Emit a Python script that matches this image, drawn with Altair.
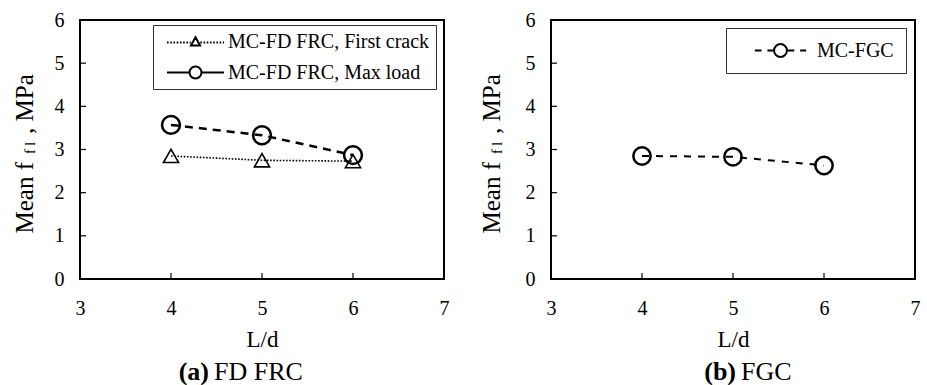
import altair as alt
import pandas as pd

# ---------------- data ----------------
ld = [4, 5, 6]
fd_first_crack = [2.85, 2.75, 2.73]
fd_max_load = [3.57, 3.33, 2.87]
fgc_mc = [2.85, 2.83, 2.63]

series_fd = ["MC-FD FRC, First crack", "MC-FD FRC, Max load"]
series_fgc = ["MC-FGC"]

x_ticks = [3, 4, 5, 6, 7]
y_ticks = [0, 1, 2, 3, 4, 5, 6]
x_title = "L/d"
y_title_parts = ["Mean f", "f l", ", MPa"]
panel_tags = ["(a)", "(b)"]
panel_names = ["FD FRC", "FGC"]

# ---------------- style ----------------
FONT = "Liberation Serif"
W, H = 364, 259
TICK_LEN = 6


def seg_path(x0, x1, on, off, y=0.0):
    """horizontal dashed segments between x0 and x1 (symbol units)"""
    parts = []
    x = x0
    while x < x1 - 1e-9:
        e = min(x + on, x1)
        parts.append(f"M{x:.3f},{y:.3f}H{e:.3f}")
        x = e + off
    return "".join(parts)


def circ_path(r):
    return (f"M{r},0A{r},{r},0,1,1,{-r},0A{r},{r},0,1,1,{r},0")


# legend symbols (symbol size 361 -> 1 unit = 9.5 px)
PATH_TRI = (seg_path(-3, -0.5, 0.17, 0.17, 0.1) + seg_path(0.5, 3, 0.17, 0.17, 0.1)
            + "M0,-0.45L0.48,0.42L-0.48,0.42Z")
PATH_CIRC = "M-3,0H-0.63M0.63,0H3" + circ_path(0.63)
PATH_CIRC2 = (seg_path(-2.7, -0.68, 0.7, 0.62) + seg_path(0.75, 2.7, 0.7, 0.62)
              + circ_path(0.68))

df_fd = pd.DataFrame({
    "ld": ld + ld,
    "val": fd_first_crack + fd_max_load,
    "series": [series_fd[0]] * 3 + [series_fd[1]] * 3,
})
df_fgc = pd.DataFrame({"ld": ld, "val": fgc_mc, "series": [series_fgc[0]] * 3})
df_xt = pd.DataFrame({"ld": x_ticks})
df_yt = pd.DataFrame({"val": y_ticks})


def xenc():
    return alt.X(
        "ld:Q",
        scale=alt.Scale(domain=[3, 7], nice=False, zero=False),
        axis=alt.Axis(values=x_ticks, title=x_title, grid=False, ticks=False,
                      tickSize=0, domain=False, labelFlush=False,
                      labelPadding=19, titlePadding=10, labelFont=FONT,
                      labelFontSize=20, labelColor="black", titleFont=FONT,
                      titleFontSize=23, titleFontWeight="normal",
                      titleColor="black"),
    )


def yenc():
    return alt.Y(
        "val:Q",
        scale=alt.Scale(domain=[0, 6], nice=False),
        axis=alt.Axis(values=y_ticks, title=None, grid=False, ticks=False,
                      tickSize=0, domain=False, labelPadding=16,
                      labelFont=FONT, labelFontSize=20, labelColor="black"),
    )


def inner_ticks():
    xt = alt.Chart(df_xt).mark_rule(color="black", strokeWidth=1.2).encode(
        x=xenc(), y=alt.value(H), y2=alt.value(H - TICK_LEN))
    yt = alt.Chart(df_yt).mark_rule(color="black", strokeWidth=1.2).encode(
        y=yenc(), x=alt.value(0), x2=alt.value(TICK_LEN))
    return [xt, yt]


def legend(lx, ly, pad, sym_off, lab_off):
    return alt.Legend(
        title=None, orient="none", legendX=lx, legendY=ly,
        strokeColor="#333333", fillColor="white",
        padding=pad, labelFont=FONT, labelFontSize=20, labelColor="black",
        symbolSize=361, symbolStrokeWidth=2, symbolStrokeColor="black",
        symbolFillColor="transparent", symbolOpacity=1,
        symbolOffset=sym_off, rowPadding=10, labelOffset=lab_off,
        labelLimit=500,
    )


def ytitle(dx):
    layers = []
    specs = [
        (y_title_parts[0], 25, "right", dx, 142),
        (y_title_parts[1], 14, "center", dx + 6, 128),
        (y_title_parts[2], 25, "left", dx, 114),
    ]
    for txt, fs, al, x, y in specs:
        layers.append(
            alt.Chart(pd.DataFrame({"t": [txt]})).mark_text(
                font=FONT, fontSize=fs, angle=270, align=al,
                baseline="middle", color="black",
            ).encode(text="t:N", x=alt.value(x), y=alt.value(y))
        )
    return layers


def caption(tag, name, cx):
    a = alt.Chart(pd.DataFrame({"t": [tag]})).mark_text(
        font=FONT, fontSize=26, fontWeight="bold", align="right",
        baseline="alphabetic", color="black",
    ).encode(text="t:N", x=alt.value(cx), y=alt.value(360))
    b = alt.Chart(pd.DataFrame({"t": [name]})).mark_text(
        font=FONT, fontSize=26, align="left", baseline="alphabetic",
        color="black",
    ).encode(text="t:N", x=alt.value(cx + 5), y=alt.value(360))
    return [a, b]


# ---------------- left panel ----------------
base_fd = alt.Chart(df_fd)
fc_line = base_fd.transform_filter(
    alt.datum.series == series_fd[0]
).mark_line(color="black", strokeWidth=1.6, strokeDash=[1.6, 1.6]).encode(
    x=xenc(), y=yenc())
ml_line = base_fd.transform_filter(
    alt.datum.series == series_fd[1]
).mark_line(color="black", strokeWidth=2.5, strokeDash=[8, 6]).encode(
    x=xenc(), y=yenc())
fc_pts = base_fd.transform_filter(
    alt.datum.series == series_fd[0]
).mark_point(shape="triangle-up", filled=False, color="black", size=230,
             strokeWidth=1.6, opacity=1).encode(x=xenc(), y=yenc())
ml_pts = base_fd.transform_filter(
    alt.datum.series == series_fd[1]
).mark_point(shape="circle", filled=False, color="black", size=320,
             strokeWidth=2.5, opacity=1).encode(x=xenc(), y=yenc())
leg_fd = legend(73, 5, 6, 26, 22)
fd_legend = base_fd.transform_filter("false").mark_point(
    filled=False, color="black", strokeWidth=2
).encode(
    x=xenc(), y=yenc(),
    shape=alt.Shape("series:N", scale=alt.Scale(domain=series_fd,
                    range=[PATH_TRI, PATH_CIRC]), legend=leg_fd),
)

left = alt.layer(
    *inner_ticks(), fc_line, ml_line, fc_pts, ml_pts, fd_legend,
    *ytitle(-55), *caption(panel_tags[0], panel_names[0], 129),
).properties(width=W, height=H)

# ---------------- right panel ----------------
base_fgc = alt.Chart(df_fgc)
fgc_line = base_fgc.mark_line(color="black", strokeWidth=2,
                              strokeDash=[7, 7]).encode(x=xenc(), y=yenc())
fgc_pts = base_fgc.mark_point(shape="circle", filled=False, color="black",
                              size=300, strokeWidth=2.5, opacity=1).encode(
    x=xenc(), y=yenc())
leg_fgc = legend(175, 8, 12, 32, 26)
fgc_legend = base_fgc.transform_filter("false").mark_point(
    filled=False, color="black", strokeWidth=2
).encode(
    x=xenc(), y=yenc(),
    shape=alt.Shape("series:N", scale=alt.Scale(domain=series_fgc,
                    range=[PATH_CIRC2]), legend=leg_fgc),
)

right = alt.layer(
    *inner_ticks(), fgc_line, fgc_pts, fgc_legend,
    *ytitle(-59), *caption(panel_tags[1], panel_names[1], 185),
).properties(width=W, height=H)

chart = alt.hconcat(left, right, spacing=107, bounds="flush").resolve_scale(
    shape="independent"
).properties(
    padding={"left": 12, "top": 9, "right": 5, "bottom": 0},
    background="white",
).configure_view(stroke="black", strokeWidth=2)

chart.save("out.html", embed_options={"renderer": "svg", "actions": False})
